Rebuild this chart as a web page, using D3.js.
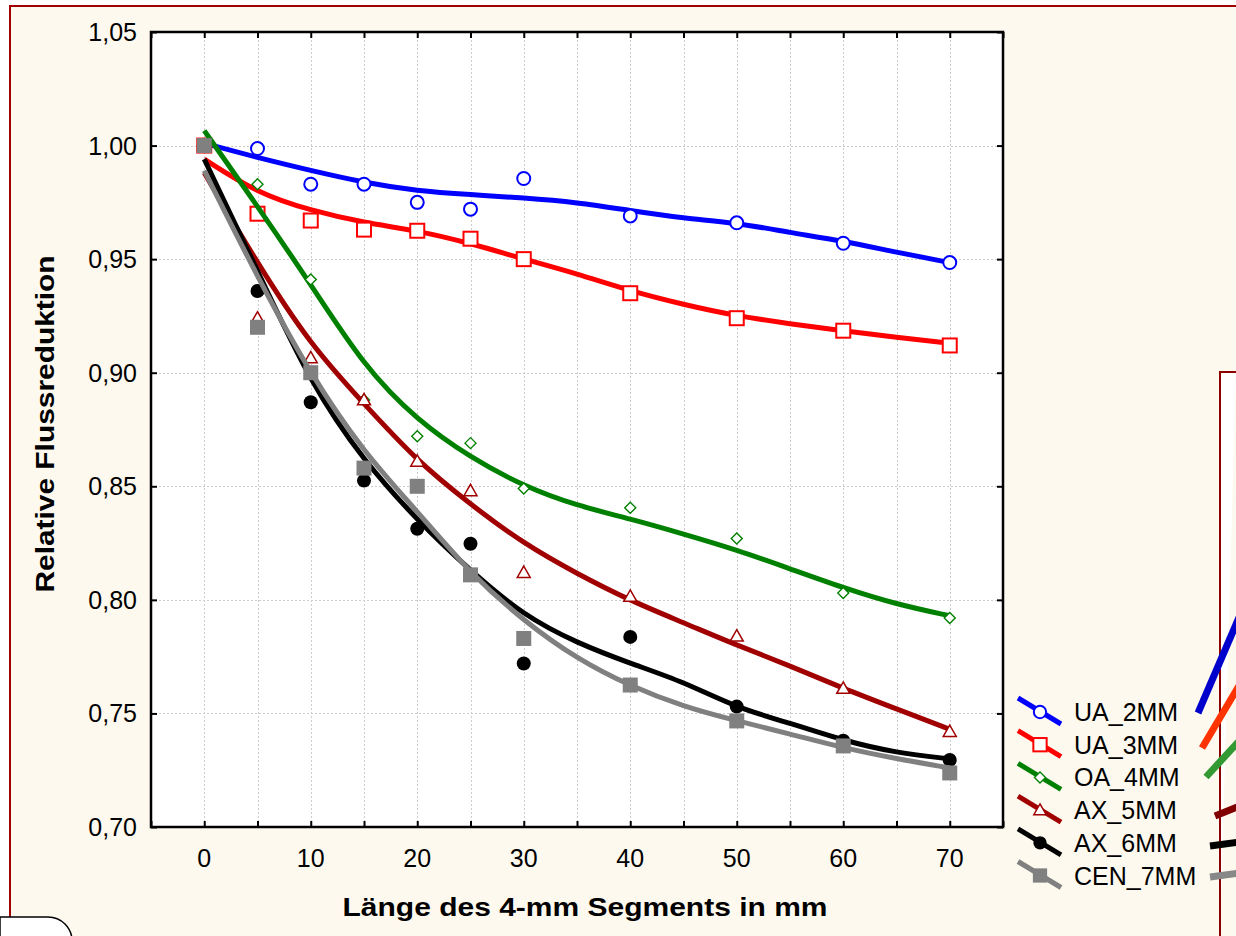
<!DOCTYPE html>
<html>
<head>
<meta charset="utf-8">
<script src="https://cdn.jsdelivr.net/npm/d3@7"></script>
<style>
  body { margin: 0; background: #fff; }
  svg text { font-family: Arial, "Liberation Sans", sans-serif; fill: #000; }
</style>
</head>
<body>
<svg id="chart" width="1236" height="936"></svg>
<script>
// measured x positions (mm)
const xs = [0, 5, 10, 15, 20, 25, 30, 40, 50, 60, 70];

// observed values per series
const ua2  = [1.000, 0.9987, 0.983, 0.983, 0.975, 0.972, 0.9855, 0.969, 0.966, 0.957, 0.9485];
const ua3  = [1.000, 0.970, 0.967, 0.963, 0.9625, 0.959, 0.950, 0.935, 0.924, 0.9185, 0.912];
const oa4  = [1.000, 0.983, 0.941, 0.888, 0.872, 0.869, 0.849, 0.8405, 0.827, 0.803, 0.792];
const ax5  = [1.000, 0.924, 0.9065, 0.888, 0.861, 0.848, 0.812, 0.8015, 0.784, 0.761, 0.742];
const ax6  = [1.000, 0.936, 0.887, 0.8525, 0.8313, 0.8247, 0.772, 0.7837, 0.753, 0.738, 0.7295];
const cen7 = [1.000, 0.920, 0.900, 0.858, 0.850, 0.811, 0.783, 0.7625, 0.7467, 0.7357, 0.7238];

// smoothed fit curves
const fitX = [0, 5, 10, 15, 20, 25, 30, 35, 40, 45, 50, 55, 60, 65, 70];
const fitUa2  = [1.001, 0.9947, 0.989, 0.9837, 0.980, 0.9784, 0.977, 0.975, 0.9714, 0.968, 0.966, 0.9617, 0.958, 0.953, 0.9485];
const fitUa3  = [0.994, 0.979, 0.9714, 0.966, 0.9626, 0.957, 0.950, 0.9436, 0.936, 0.930, 0.925, 0.9215, 0.9185, 0.9155, 0.913];
const fitOa4  = [1.0066, 0.9733, 0.939, 0.9027, 0.879, 0.8626, 0.850, 0.8414, 0.8357, 0.829, 0.822, 0.8137, 0.8053, 0.798, 0.793];
const fitAx5  = [0.988, 0.948, 0.912, 0.8863, 0.861, 0.842, 0.8247, 0.8115, 0.7996, 0.790, 0.780, 0.771, 0.761, 0.752, 0.743];
const fitAx6  = [0.994, 0.945, 0.895, 0.861, 0.835, 0.8128, 0.793, 0.781, 0.772, 0.764, 0.7524, 0.7458, 0.738, 0.7326, 0.730];
const fitCen7 = [0.989, 0.942, 0.899, 0.8648, 0.839, 0.8115, 0.7907, 0.774, 0.762, 0.753, 0.7467, 0.741, 0.7348, 0.730, 0.726];

const names = ['UA_2MM', 'UA_3MM', 'OA_4MM', 'AX_5MM', 'AX_6MM', 'CEN_7MM'];
const yTicks = [0.70, 0.75, 0.80, 0.85, 0.90, 0.95, 1.00, 1.05];
const xTicks = [-5, 0, 5, 10, 15, 20, 25, 30, 35, 40, 45, 50, 55, 60, 65, 70, 75];
const xLabels = [0, 10, 20, 30, 40, 50, 60, 70];

const series = [
  { name: names[0], pts: ua2,  fit: fitUa2,  color: '#0000ff', marker: 'circle' },
  { name: names[1], pts: ua3,  fit: fitUa3,  color: '#ff0000', marker: 'square' },
  { name: names[2], pts: oa4,  fit: fitOa4,  color: '#008000', marker: 'diamond' },
  { name: names[3], pts: ax5,  fit: fitAx5,  color: '#a00000', marker: 'triangle' },
  { name: names[4], pts: ax6,  fit: fitAx6,  color: '#000000', marker: 'dot' },
  { name: names[5], pts: cen7, fit: fitCen7, color: '#808080', marker: 'block' }
];

const svg = d3.select('#chart');
const cream = '#fef9ee';

// page background / frame
svg.append('rect').attr('x', 10).attr('y', 6).attr('width', 1226).attr('height', 930).attr('fill', cream);
svg.append('path').attr('d', 'M10,917 L10,6 L1236,6').attr('fill', 'none').attr('stroke', '#a00000').attr('stroke-width', 2);

// plot area
const pLeft = 151, pRight = 1003, pTop = 32, pBottom = 827;
const x = d3.scaleLinear().domain([-5, 75]).range([pLeft, pRight]);
const y = d3.scaleLinear().domain([0.70, 1.05]).range([pBottom, pTop]);

svg.append('rect').attr('x', pLeft).attr('y', pTop).attr('width', pRight - pLeft).attr('height', pBottom - pTop).attr('fill', '#fff');

// grid
const grid = svg.append('g').attr('stroke', '#cccccc').attr('stroke-width', 1).attr('stroke-dasharray', '2,2');
grid.selectAll('.gx').data(xTicks.slice(1, -1)).enter().append('line')
  .attr('x1', d => Math.round(x(d)) + 0.5).attr('x2', d => Math.round(x(d)) + 0.5)
  .attr('y1', pTop).attr('y2', pBottom);
grid.selectAll('.gy').data(yTicks.slice(1, -1)).enter().append('line')
  .attr('y1', d => Math.round(y(d)) + 0.5).attr('y2', d => Math.round(y(d)) + 0.5)
  .attr('x1', pLeft).attr('x2', pRight);

// axes, ticks inward
const fmt = d => d3.format('.2f')(d).replace('.', ',');
const axL = svg.append('g').attr('transform', `translate(${pLeft},0)`)
  .call(d3.axisRight(y).tickValues(yTicks).tickSize(6).tickFormat(''));
const axR = svg.append('g').attr('transform', `translate(${pRight},0)`)
  .call(d3.axisLeft(y).tickValues(yTicks).tickSize(6).tickFormat(''));
const axB = svg.append('g').attr('transform', `translate(0,${pBottom})`)
  .call(d3.axisTop(x).tickValues(xTicks).tickSize(6).tickFormat(''));
const axT = svg.append('g').attr('transform', `translate(0,${pTop})`)
  .call(d3.axisBottom(x).tickValues(xTicks).tickSize(6).tickFormat(''));
[axL, axR, axB, axT].forEach(a => {
  a.select('.domain').remove();
  a.selectAll('line').attr('stroke', '#000').attr('stroke-width', 2);
});
svg.append('rect').attr('x', pLeft).attr('y', pTop).attr('width', pRight - pLeft).attr('height', pBottom - pTop)
  .attr('fill', 'none').attr('stroke', '#000').attr('stroke-width', 2.5);

// tick labels
svg.append('g').selectAll('text').data(yTicks).enter().append('text')
  .attr('x', 137).attr('y', d => y(d) + 9).attr('text-anchor', 'end')
  .style('font-size', '25px').text(fmt);
svg.append('g').selectAll('text').data(xLabels).enter().append('text')
  .attr('x', d => x(d)).attr('y', 867).attr('text-anchor', 'middle')
  .style('font-size', '25px').text(d => d);

// axis titles
svg.append('text').attr('transform', 'translate(54,424) rotate(-90)').attr('text-anchor', 'middle')
  .style('font-size', '25px').style('font-weight', 'bold')
  .attr('textLength', 337).attr('lengthAdjust', 'spacingAndGlyphs')
  .text('Relative Flussreduktion');
svg.append('text').attr('x', 585).attr('y', 916).attr('text-anchor', 'middle')
  .style('font-size', '25px').style('font-weight', 'bold')
  .attr('textLength', 485).attr('lengthAdjust', 'spacingAndGlyphs')
  .text('Länge des 4-mm Segments in mm');

// markers
function drawMarker(g, type, color, cx, cy, scale) {
  const s = scale || 1;
  if (type === 'circle') {
    g.append('circle').attr('cx', cx).attr('cy', cy).attr('r', 6.5 * s)
      .attr('fill', '#fff').attr('stroke', color).attr('stroke-width', 2);
  } else if (type === 'square') {
    const h = 7 * s;
    g.append('rect').attr('x', cx - h).attr('y', cy - h).attr('width', 2 * h).attr('height', 2 * h)
      .attr('fill', '#fff').attr('stroke', color).attr('stroke-width', 2);
  } else if (type === 'diamond') {
    const h = 5.5 * s;
    g.append('path').attr('d', `M${cx},${cy - h}L${cx + h},${cy}L${cx},${cy + h}L${cx - h},${cy}Z`)
      .attr('fill', '#fff').attr('stroke', color).attr('stroke-width', 1.4);
  } else if (type === 'triangle') {
    const h = 6.5 * s;
    g.append('path').attr('d', `M${cx},${cy - h}L${cx + h},${cy + h * 0.75}L${cx - h},${cy + h * 0.75}Z`)
      .attr('fill', '#fff').attr('stroke', color).attr('stroke-width', 1.5);
  } else if (type === 'dot') {
    g.append('circle').attr('cx', cx).attr('cy', cy).attr('r', 7 * s).attr('fill', color);
  } else if (type === 'block') {
    const h = 7.5 * s;
    g.append('rect').attr('x', cx - h).attr('y', cy - h).attr('width', 2 * h).attr('height', 2 * h)
      .attr('fill', color);
  }
}

// fits and points
const line = d3.line().curve(d3.curveBasis);
const plot = svg.append('g');
series.forEach(s => {
  const g = plot.append('g');
  g.append('path')
    .attr('d', line(fitX.map((v, i) => [x(v), y(s.fit[i])])))
    .attr('fill', 'none').attr('stroke', s.color).attr('stroke-width', 5);
  xs.forEach((v, i) => drawMarker(g, s.marker, s.color, x(v), y(s.pts[i])));
});

// legend
const leg = svg.append('g');
series.forEach((s, i) => {
  const cy = 712 + i * 32.7, cx = 1040;
  leg.append('line').attr('x1', cx - 22).attr('y1', cy - 14).attr('x2', cx + 21).attr('y2', cy + 12)
    .attr('stroke', s.color).attr('stroke-width', 5);
  drawMarker(leg, s.marker, s.color, cx, cy, s.marker === 'diamond' ? 1.0 : 0.95);
  leg.append('text').attr('x', 1074).attr('y', cy + 9).style('font-size', '25px').text(s.name);
});

// neighbouring panel fragments at the page edge
svg.append('path').attr('d', 'M1236,372 L1220,372 L1220,936').attr('fill', '#fff')
  .attr('stroke', '#8b0000').attr('stroke-width', 2);
const frags = [
  ['#0000cc', 1198, 713, 1240, 615],
  ['#ff3300', 1202, 748, 1240, 684],
  ['#339933', 1206, 777, 1240, 740],
  ['#800000', 1215, 816, 1240, 806],
  ['#000000', 1210, 846, 1240, 842],
  ['#888888', 1210, 877, 1240, 873]
];
frags.forEach(f => svg.append('line').attr('x1', f[1]).attr('y1', f[2]).attr('x2', f[3]).attr('y2', f[4])
  .attr('stroke', f[0]).attr('stroke-width', 7));
svg.append('path').attr('d', 'M0,917 L48,917 A24,24 0 0 1 72,941 L0,941 Z')
  .attr('fill', '#fff').attr('stroke', '#000').attr('stroke-width', 1.5);
</script>
</body>
</html>
